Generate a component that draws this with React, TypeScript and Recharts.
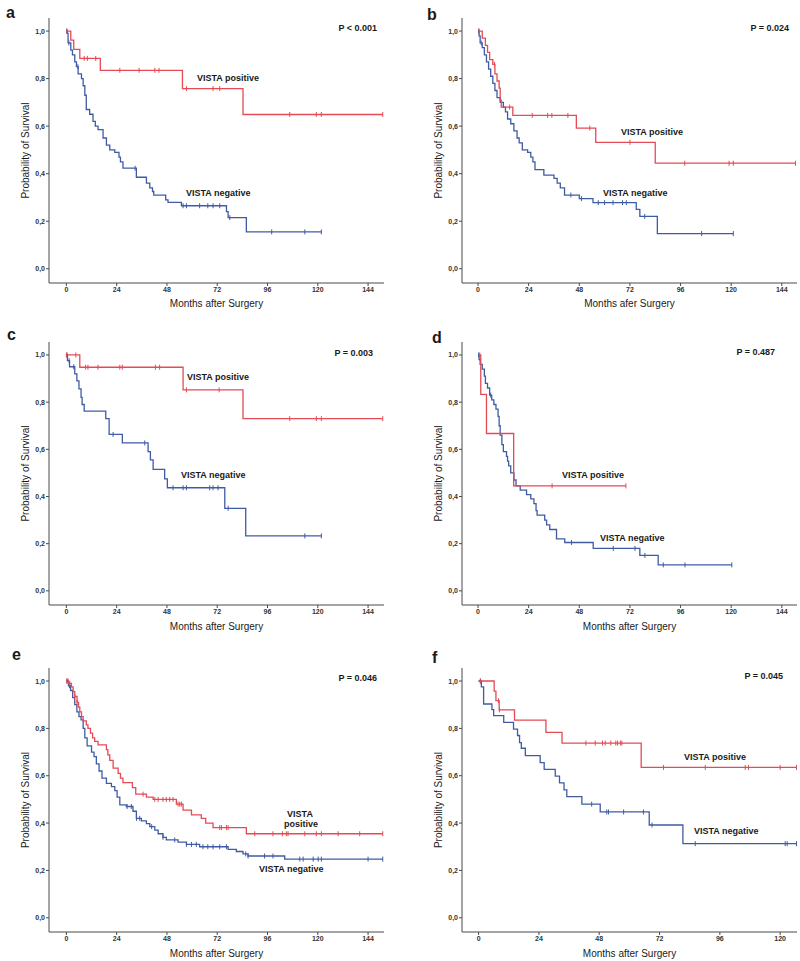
import { ComposedChart, Line, XAxis, YAxis } from 'recharts';

type Step = [number, number];

const RED = '#e34b55';
const BLUE = '#3f5ca3';
const FRAME = '#4a4a4a';
const FONT = '"Liberation Sans", Arial, sans-serif';

const yTicks = [0, 0.2, 0.4, 0.6, 0.8, 1.0];
const xTicksLong = [0, 24, 48, 72, 96, 120, 144];
const xTicksShort = [0, 24, 48, 72, 96, 120];

// a
const aPosSteps: Step[] = [[2.1, 0.962], [3.5, 0.923], [6.4, 0.885], [16.2, 0.835], [55.4, 0.758], [84.3, 0.649]];
const aPosCens = [0.3, 8.5, 10, 14, 25.5, 34.7, 42.2, 44.2, 57.3, 70, 73.2, 106.6, 119.3, 121.7, 151];
const aNegSteps: Step[] = [[0.4, 0.99], [0.8, 0.95], [2.1, 0.92], [2.9, 0.9], [4, 0.87], [4.8, 0.85], [5.6, 0.82], [7.2, 0.8], [8, 0.77], [8.8, 0.73], [9.5, 0.67], [11.1, 0.65], [12.7, 0.62], [13.8, 0.6], [15.1, 0.585], [17.5, 0.55], [19.1, 0.52], [20.7, 0.5], [23.1, 0.49], [25.1, 0.47], [25.8, 0.45], [27, 0.423], [33.4, 0.385], [38.2, 0.36], [39.8, 0.34], [41.1, 0.325], [41.7, 0.31], [47.4, 0.29], [48.5, 0.279], [54.9, 0.265], [76.4, 0.24], [77.2, 0.215], [85.9, 0.155]];
const aNegCens = [0.2, 1.2, 5.5, 32.8, 55.7, 57.3, 63.6, 67.5, 70, 73.2, 78, 98, 113.8, 121.7];

// b
const bPosSteps: Step[] = [[2, 0.97], [3.5, 0.94], [4.5, 0.91], [5.5, 0.88], [7, 0.86], [8, 0.82], [9, 0.79], [10, 0.76], [10.5, 0.71], [11, 0.68], [16.5, 0.645], [46.6, 0.592], [55.8, 0.532], [84, 0.444]];
const bPosCens = [0.5, 7.8, 15, 25.7, 33, 35, 42.6, 53, 72, 98, 119, 121, 150.5];
const bNegSteps: Step[] = [[0.5, 0.98], [1, 0.95], [2, 0.93], [3, 0.9], [4, 0.87], [5, 0.84], [6, 0.81], [7, 0.78], [8, 0.75], [9, 0.72], [10.5, 0.7], [12, 0.68], [13, 0.66], [14, 0.63], [15.5, 0.61], [17, 0.58], [18.5, 0.55], [19.5, 0.53], [21, 0.5], [23.5, 0.49], [25, 0.47], [26, 0.45], [27, 0.417], [31.2, 0.394], [36, 0.38], [37.5, 0.36], [39, 0.34], [41, 0.31], [48, 0.295], [54.5, 0.278], [75, 0.25], [76.7, 0.22], [85, 0.148]];
const bNegCens = [0.3, 1.5, 44, 49, 57, 60, 64, 68.5, 70.3, 79, 106, 121];

// c
const cPosSteps: Step[] = [[6.4, 0.948], [55.7, 0.852], [84.3, 0.73]];
const cPosCens = [0, 4.5, 9.2, 10.3, 15.1, 25.5, 26.7, 42.5, 44.5, 57.3, 72.9, 106.6, 119.3, 121.7, 151];
const cNegSteps: Step[] = [[0.5, 0.976], [1.5, 0.95], [4, 0.92], [5, 0.89], [6, 0.856], [7, 0.82], [7.5, 0.79], [8.5, 0.762], [18.8, 0.73], [20.4, 0.663], [26.7, 0.627], [39, 0.59], [40.1, 0.555], [41.4, 0.515], [46.9, 0.475], [48.2, 0.437], [75.6, 0.35], [85.6, 0.233]];
const cNegCens = [0.3, 1.3, 3.5, 22.3, 37.4, 50.9, 55.7, 57.3, 68.4, 70, 72.4, 77.2, 113.8, 121.7];

// d
const dPosSteps: Step[] = [[1.3, 0.833], [4, 0.667], [16.9, 0.445]];
const dPosCens = [0.8, 35.1, 70.1];
const dNegSteps: Step[] = [[0.5, 0.98], [1, 0.96], [2, 0.94], [3, 0.91], [3.5, 0.88], [4.5, 0.86], [5.5, 0.83], [6.5, 0.81], [7.5, 0.79], [8.5, 0.77], [9.5, 0.74], [10, 0.7], [10.5, 0.66], [11.3, 0.62], [12, 0.59], [13.5, 0.57], [14, 0.55], [14.5, 0.53], [15.5, 0.5], [17, 0.47], [18, 0.445], [20, 0.427], [23, 0.408], [25, 0.39], [26.5, 0.37], [27.5, 0.34], [28, 0.321], [31.6, 0.3], [32.5, 0.28], [34, 0.26], [37.2, 0.22], [41.1, 0.205], [54.6, 0.18], [76.7, 0.15], [85.4, 0.11]];
const dNegCens = [0.3, 6, 44.3, 64.1, 74.4, 79.1, 87.8, 98.1, 120.3];

// e
const ePosSteps: Step[] = [[1, 0.99], [2.4, 0.975], [3.2, 0.955], [4, 0.935], [5.1, 0.91], [5.8, 0.89], [6.4, 0.87], [7.2, 0.85], [8, 0.832], [9.5, 0.815], [10.3, 0.8], [11.5, 0.78], [12.5, 0.76], [13.5, 0.745], [15.1, 0.73], [19.1, 0.71], [19.8, 0.688], [20.7, 0.665], [22.3, 0.632], [24.7, 0.61], [25.8, 0.59], [27, 0.571], [31.5, 0.55], [33.1, 0.522], [38.2, 0.51], [41.4, 0.5], [52.5, 0.48], [55.7, 0.455], [59.7, 0.435], [64.4, 0.42], [66.5, 0.4], [70, 0.381], [85.9, 0.355]];
const ePosCens = [0.2, 0.8, 1.6, 4, 5.1, 36.6, 42.2, 43.8, 46.1, 47.7, 49.3, 50.9, 53.3, 54.1, 54.9, 73.2, 74, 76.4, 77.2, 89.9, 98.6, 103.1, 105, 105.8, 113.8, 119.3, 121.7, 129.7, 140, 151];
const eNegSteps: Step[] = [[1, 0.98], [2, 0.96], [3, 0.93], [4, 0.9], [5, 0.87], [6, 0.85], [7, 0.836], [8, 0.8], [8.8, 0.76], [9.9, 0.726], [12, 0.7], [13.2, 0.681], [14.3, 0.65], [15.6, 0.62], [17, 0.59], [19.1, 0.568], [21.5, 0.554], [23.1, 0.537], [24.2, 0.51], [25.5, 0.477], [28.6, 0.47], [31.8, 0.45], [33.4, 0.42], [35.8, 0.409], [38.2, 0.398], [39.8, 0.385], [42.2, 0.37], [43.8, 0.355], [46.1, 0.34], [47.7, 0.329], [53.3, 0.32], [57.3, 0.31], [63.6, 0.3], [77.2, 0.289], [81.1, 0.28], [84.3, 0.27], [86.7, 0.261], [104.2, 0.248]];
const eNegCens = [0.3, 1.5, 29, 31, 33.5, 35, 40.7, 46.1, 51.7, 57.3, 59.7, 62, 65.2, 67.5, 70, 73.2, 76.4, 85.6, 86.7, 94.6, 98.6, 111.4, 113, 117.8, 120.2, 121.7, 144, 151];

// f
const fPosSteps: Step[] = [[6.2, 0.957], [6.9, 0.917], [8.2, 0.878], [14.3, 0.835], [26.8, 0.783], [33.2, 0.738], [64.7, 0.635]];
const fPosCens = [0.7, 7.9, 8.3, 42.7, 46.4, 49.3, 50.4, 52.6, 54.6, 55.3, 56.4, 57, 73.6, 90.2, 106.1, 107.4, 120, 126.5];
const fNegSteps: Step[] = [[1.1, 0.975], [2, 0.903], [5.3, 0.879], [6, 0.854], [10, 0.825], [13.9, 0.797], [15.5, 0.77], [16.3, 0.74], [17, 0.716], [18.6, 0.685], [24.5, 0.655], [26.1, 0.627], [30.5, 0.598], [32.2, 0.57], [34, 0.54], [35.1, 0.512], [41.1, 0.48], [48.4, 0.447], [67.9, 0.392], [81.3, 0.313]];
const fNegCens = [0.7, 45, 51, 51.7, 57.7, 65.6, 69, 86.2, 122, 122.8, 126.5];

type Pt = { t: number; s: number; c: boolean };

function buildCurve(steps: Step[], censored: number[]): Pt[] {
  const pts: Pt[] = [{ t: 0, s: 1, c: false }];
  steps.forEach(([t, s]) => pts.push({ t, s, c: false }));
  censored.forEach((t) => {
    let s = 1;
    steps.forEach(([st, sv]) => {
      if (st <= t) s = sv;
    });
    pts.push({ t, s, c: true });
  });
  pts.sort((p, q) => p.t - q.t || Number(p.c) - Number(q.c));
  return pts;
}

const censorDot = (color: string) => (props: any) => {
  const { cx, cy, payload, index } = props;
  if (!payload || !payload.c) return <g key={`n-${index}`} />;
  return <line key={`c-${index}`} x1={cx} x2={cx} y1={cy - 2.5} y2={cy + 2.5} stroke={color} strokeWidth={1} />;
};

type Label = { text: string; x: number; y: number; align?: 'left' | 'right' | 'center' };

type PanelCfg = {
  letter: string;
  letterPos: [number, number];
  left: number;
  top: number;
  width: number;
  height: number;
  box: { l: number; t: number; r: number; b: number };
  xDomain: [number, number];
  xTicks: number[];
  xTitle: string;
  xTitleOffset: number;
  yTitleX: number;
  pos: Pt[];
  neg: Pt[];
  pValue: Label;
  labels: Label[];
};

const panels: PanelCfg[] = [
  {
    letter: 'a', letterPos: [6, 13], left: 0, top: 0, width: 400, height: 320,
    box: { l: 49, t: 18, r: 384, b: 283 }, xDomain: [-8.3, 151.6], xTicks: xTicksLong,
    xTitle: 'Months after Surgery', xTitleOffset: 13, yTitleX: 25,
    pos: buildCurve(aPosSteps, aPosCens), neg: buildCurve(aNegSteps, aNegCens),
    pValue: { text: 'P < 0.001', x: 377, y: 28, align: 'right' },
    labels: [{ text: 'VISTA positive', x: 197, y: 78 }, { text: 'VISTA negative', x: 186, y: 193 }],
  },
  {
    letter: 'b', letterPos: [427, 15], left: 400, top: 0, width: 400, height: 320,
    box: { l: 462, t: 18, r: 797, b: 283 }, xDomain: [-7.6, 151.2], xTicks: xTicksLong,
    xTitle: 'Months afer Surgery', xTitleOffset: 13, yTitleX: 38,
    pos: buildCurve(bPosSteps, bPosCens), neg: buildCurve(bNegSteps, bNegCens),
    pValue: { text: 'P = 0.024', x: 789, y: 28, align: 'right' },
    labels: [{ text: 'VISTA positive', x: 621, y: 132 }, { text: 'VISTA negative', x: 603, y: 193 }],
  },
  {
    letter: 'c', letterPos: [7, 335], left: 0, top: 320, width: 400, height: 320,
    box: { l: 49, t: 342, r: 384, b: 605 }, xDomain: [-8.3, 151.6], xTicks: xTicksLong,
    xTitle: 'Months after Surgery', xTitleOffset: 10.5, yTitleX: 25,
    pos: buildCurve(cPosSteps, cPosCens), neg: buildCurve(cNegSteps, cNegCens),
    pValue: { text: 'P = 0.003', x: 373, y: 353, align: 'right' },
    labels: [{ text: 'VISTA positive', x: 187, y: 377 }, { text: 'VISTA negative', x: 181, y: 475 }],
  },
  {
    letter: 'd', letterPos: [432, 338], left: 400, top: 320, width: 400, height: 320,
    box: { l: 462, t: 342, r: 797, b: 605 }, xDomain: [-7.6, 151.2], xTicks: xTicksLong,
    xTitle: 'Months after Surgery', xTitleOffset: 10.5, yTitleX: 38,
    pos: buildCurve(dPosSteps, dPosCens), neg: buildCurve(dNegSteps, dNegCens),
    pValue: { text: 'P = 0.487', x: 775, y: 352, align: 'right' },
    labels: [{ text: 'VISTA positive', x: 562, y: 475 }, { text: 'VISTA negative', x: 600, y: 538 }],
  },
  {
    letter: 'e', letterPos: [12, 655], left: 0, top: 640, width: 400, height: 321,
    box: { l: 49, t: 668, r: 384, b: 932 }, xDomain: [-8.3, 151.6], xTicks: xTicksLong,
    xTitle: 'Months after Surgery', xTitleOffset: 4, yTitleX: 25,
    pos: buildCurve(ePosSteps, ePosCens), neg: buildCurve(eNegSteps, eNegCens),
    pValue: { text: 'P = 0.046', x: 377, y: 678, align: 'right' },
    labels: [
      { text: 'VISTA', x: 300, y: 814, align: 'center' },
      { text: 'positive', x: 301, y: 823.7, align: 'center' },
      { text: 'VISTA negative', x: 259, y: 869 },
    ],
  },
  {
    letter: 'f', letterPos: [432, 658], left: 400, top: 640, width: 400, height: 321,
    box: { l: 462, t: 668, r: 797, b: 932 }, xDomain: [-6.6, 126.7], xTicks: xTicksShort,
    xTitle: 'Months after Surgery', xTitleOffset: 4, yTitleX: 38,
    pos: buildCurve(fPosSteps, fPosCens), neg: buildCurve(fNegSteps, fNegCens),
    pValue: { text: 'P = 0.045', x: 783, y: 676, align: 'right' },
    labels: [{ text: 'VISTA positive', x: 684, y: 757 }, { text: 'VISTA negative', x: 694, y: 831 }],
  },
];

const tickStyle = { fontSize: 7, fontWeight: 700, fill: '#333', fontFamily: FONT };

const shift = { left: 'translateY(-50%)', right: 'translate(-100%, -50%)', center: 'translate(-50%, -50%)' };

function Text({ l, size = 9 }: { l: Label; size?: number }) {
  return (
    <div
      style={{
        position: 'absolute', left: l.x, top: l.y, fontSize: size, fontWeight: 700, lineHeight: 1,
        whiteSpace: 'nowrap', color: '#1a1a1a', transform: shift[l.align || 'left'],
      }}
    >
      {l.text}
    </div>
  );
}

function Panel({ p }: { p: PanelCfg }) {
  const margin = { top: p.box.t - p.top, right: p.left + p.width - p.box.r, bottom: 0, left: 0 };
  const xAxisH = p.top + p.height - p.box.b;
  const yAxisW = p.box.l - p.left;
  const yDomain: [number, number] = [-0.06, 1.055];
  return (
    <div style={{ position: 'absolute', left: p.left, top: p.top }}>
      <ComposedChart width={p.width} height={p.height} margin={margin}>
        <XAxis
          xAxisId="b" type="number" dataKey="t" domain={p.xDomain} ticks={p.xTicks} allowDataOverflow
          height={xAxisH} tick={tickStyle} tickSize={3} tickMargin={1}
          tickLine={{ stroke: FRAME }} axisLine={{ stroke: FRAME }}
          label={{ value: p.xTitle, position: 'insideBottom', offset: p.xTitleOffset, style: { fontSize: 10, fill: '#1a1a1a', fontFamily: FONT } }}
        />
        <XAxis xAxisId="t" orientation="top" type="number" dataKey="t" domain={p.xDomain} allowDataOverflow height={0} tick={false} tickLine={false} axisLine={{ stroke: FRAME }} />
        <YAxis
          yAxisId="l" type="number" dataKey="s" domain={yDomain} ticks={yTicks} allowDataOverflow width={yAxisW}
          tick={tickStyle} tickSize={3} tickMargin={1} tickLine={{ stroke: FRAME }} axisLine={{ stroke: FRAME }}
          tickFormatter={(v: number) => v.toFixed(1).replace('.', ',')}
          label={{ value: 'Probability of Survival', angle: -90, position: 'insideLeft', offset: p.yTitleX, style: { textAnchor: 'middle', fontSize: 10, fill: '#1a1a1a', fontFamily: FONT } }}
        />
        <YAxis yAxisId="r" orientation="right" type="number" domain={yDomain} allowDataOverflow width={0} tick={false} tickLine={false} axisLine={{ stroke: FRAME }} />
        <Line
          xAxisId="b" yAxisId="l" data={p.neg} dataKey="s" type="stepAfter" stroke={BLUE} strokeWidth={1.3}
          dot={censorDot(BLUE)} activeDot={false} isAnimationActive={false}
        />
        <Line
          xAxisId="b" yAxisId="l" data={p.pos} dataKey="s" type="stepAfter" stroke={RED} strokeWidth={1.3}
          dot={censorDot(RED)} activeDot={false} isAnimationActive={false}
        />
      </ComposedChart>
    </div>
  );
}

export default function App() {
  return (
    <div style={{ position: 'absolute', left: 0, top: 0, width: 800, height: 961, background: '#fff', fontFamily: FONT, overflow: 'hidden' }}>
      {panels.map((p) => (
        <Panel key={p.letter} p={p} />
      ))}
      {panels.map((p) => (
        <div key={`txt-${p.letter}`}>
          <Text l={{ text: p.letter, x: p.letterPos[0], y: p.letterPos[1] }} size={16} />
          <Text l={p.pValue} />
          {p.labels.map((l, i) => (
            <Text key={i} l={l} />
          ))}
        </div>
      ))}
    </div>
  );
}
